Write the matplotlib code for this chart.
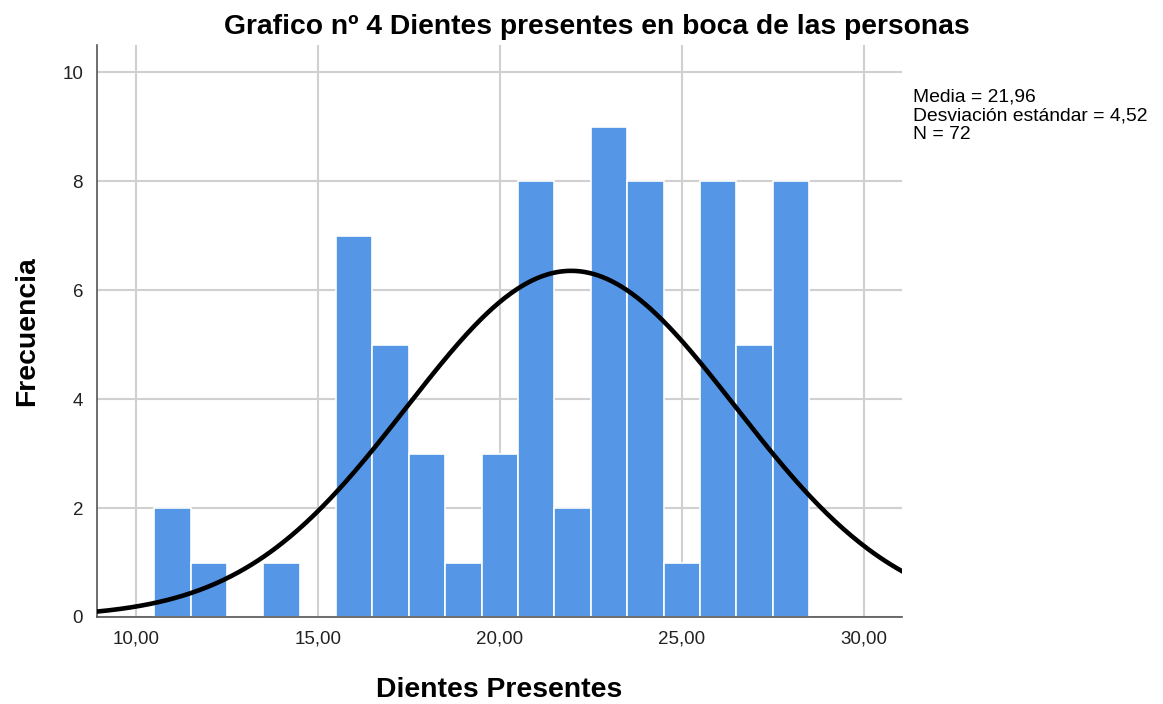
import numpy as np
import matplotlib.pyplot as plt

plt.rcParams['font.family'] = ['Liberation Sans', 'DejaVu Sans']

# histogram bins (centre value) and counts
dientes = [11, 12, 13, 14, 15, 16, 17, 18, 19, 20, 21, 22, 23, 24, 25, 26, 27, 28]
frecuencia = [2, 1, 0, 1, 0, 7, 5, 3, 1, 3, 8, 2, 9, 8, 1, 8, 5, 8]

media = 21.96
desv = 4.52
n = 72

fig = plt.figure(figsize=(11.63, 7.04), dpi=100)
ax = fig.add_axes([0.0834, 0.1236, 0.6922, 0.8124])

ax.bar(dientes, frecuencia, width=1.0, color='#5596e6', edgecolor='white',
       linewidth=1.2, zorder=2)

# fitted normal curve (from the stats shown on the chart)
xs = np.linspace(8.9, 31.1, 400)
ys = n * 1.0 / (desv * np.sqrt(2 * np.pi)) * np.exp(-0.5 * ((xs - media) / desv) ** 2)
ax.plot(xs, ys, color='black', linewidth=3.3, zorder=3)

ax.set_xlim(8.93, 31.05)
ax.set_ylim(0, 10.5)
ax.set_xticks([10, 15, 20, 25, 30])
ax.set_xticklabels(['10,00', '15,00', '20,00', '25,00', '30,00'])
ax.set_yticks([0, 2, 4, 6, 8, 10])
ax.grid(True, color='#d0d0d0', linewidth=1.5, zorder=0)
ax.set_axisbelow(True)
ax.tick_params(length=0, labelsize=13.5, pad=10, colors='#222222')
for s in ['top', 'right']:
    ax.spines[s].set_visible(False)
for s in ['left', 'bottom']:
    ax.spines[s].set_color('#555555')
    ax.spines[s].set_linewidth(1.2)

fig.text(0.513, 0.962, 'Grafico nº 4 Dientes presentes en boca de las personas',
         fontsize=20.3, fontweight='bold', ha='center', va='center')
ax.set_xlabel('Dientes Presentes', fontsize=20.4, fontweight='bold', labelpad=21)
ax.set_ylabel('Frecuencia', fontsize=20.4, fontweight='bold', labelpad=16)

fig.text(0.785, 0.874, 'Media = 21,96\nDesviación estándar = 4,52\nN = 72',
         fontsize=13.9, va='top', ha='left', linespacing=1.12)

fig.savefig('out.png', dpi=100)
